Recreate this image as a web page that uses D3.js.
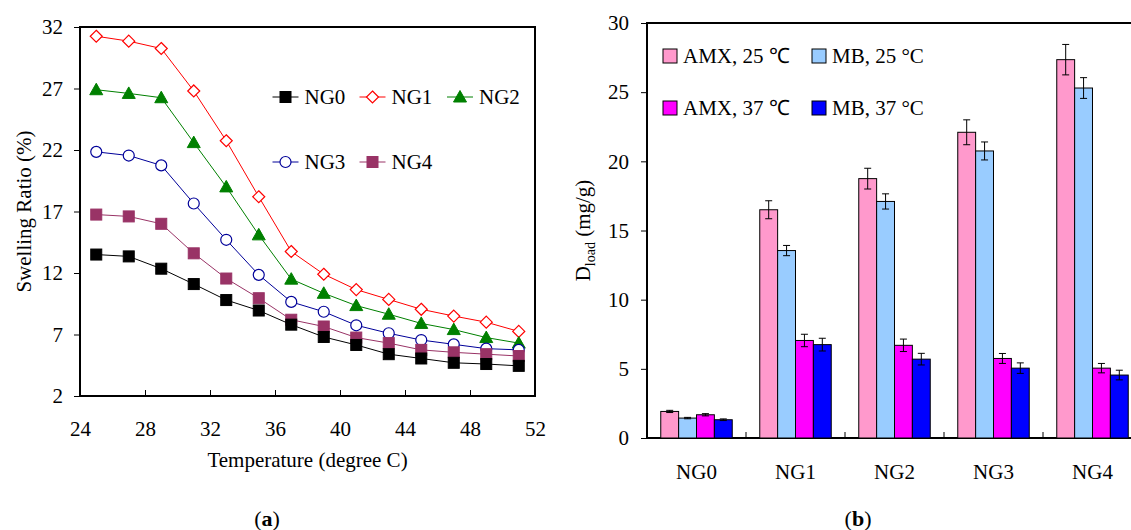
<!DOCTYPE html>
<html>
<head>
<meta charset="utf-8">
<script src="https://cdn.jsdelivr.net/npm/d3@7"></script>
<style>
  body { margin: 0; background: #fff; }
  svg text { font-family: "Liberation Serif", "Times New Roman", serif; fill: #000; }
</style>
</head>
<body>
<div id="chart"></div>
<script>
// ---- data: (a) swelling ratio vs temperature
const temps = [25, 27, 29, 31, 33, 35, 37, 39, 41, 43, 45, 47, 49, 51];
const ng0 = [13.5, 13.35, 12.35, 11.1, 9.8, 8.95, 7.8, 6.8, 6.15, 5.4, 5.05, 4.7, 4.6, 4.45];
const ng1 = [31.25, 30.85, 30.25, 26.8, 22.75, 18.2, 13.75, 11.9, 10.65, 9.85, 9.05, 8.5, 8.0, 7.25];
const ng2 = [26.9, 26.6, 26.25, 22.6, 19.0, 15.1, 11.5, 10.35, 9.35, 8.65, 7.9, 7.4, 6.75, 6.3];
const ng3 = [21.85, 21.55, 20.75, 17.65, 14.7, 11.85, 9.65, 8.85, 7.75, 7.1, 6.55, 6.2, 5.85, 5.75];
const ng4 = [16.75, 16.6, 16.0, 13.6, 11.55, 9.95, 8.2, 7.65, 6.75, 6.3, 5.75, 5.55, 5.4, 5.25];
const seriesNames = ["NG0", "NG1", "NG2", "NG3", "NG4"];
const xTicksA = [24, 28, 32, 36, 40, 44, 48, 52];
const yTicksA = [2, 7, 12, 17, 22, 27, 32];

// ---- data: (b) drug loading
const groups = ["NG0", "NG1", "NG2", "NG3", "NG4"];
const barKeys = ["AMX, 25 \u2103", "MB, 25 \u00B0C", "AMX, 37 \u2103", "MB, 37 \u00B0C"];
const amx25 = [1.92, 16.5, 18.75, 22.1, 27.35];
const mb25 = [1.44, 13.55, 17.1, 20.75, 25.3];
const amx37 = [1.68, 7.05, 6.7, 5.75, 5.05];
const mb37 = [1.32, 6.75, 5.7, 5.05, 4.55];
const amx25Err = [0.08, 0.65, 0.75, 0.9, 1.1];
const mb25Err = [0.05, 0.37, 0.55, 0.65, 0.75];
const amx37Err = [0.08, 0.45, 0.45, 0.36, 0.34];
const mb37Err = [0.06, 0.46, 0.42, 0.38, 0.35];
const yTicksB = [0, 5, 10, 15, 20, 25, 30];

const W = 1131, H = 530;
const svg = d3.select("#chart").append("svg").attr("width", W).attr("height", H);
const FS = 21;

// ================= (a) =================
const A = { left: 80, right: 535, top: 27, bottom: 396 };
const xA = d3.scaleLinear().domain([24, 52]).range([A.left, A.right]);
const yA = d3.scaleLinear().domain([2, 32]).range([A.bottom, A.top]);

const ga = svg.append("g");

ga.append("rect")
  .attr("x", A.left).attr("y", A.top)
  .attr("width", A.right - A.left).attr("height", A.bottom - A.top)
  .attr("fill", "none").attr("stroke", "#000").attr("stroke-width", 2);

// y axis ticks (outside)
ga.append("g")
  .attr("transform", `translate(${A.left},0)`)
  .call(d3.axisLeft(yA).tickValues(yTicksA).tickSize(6).tickPadding(11))
  .call(g => g.select(".domain").remove())
  .call(g => g.selectAll("text").attr("font-size", FS).attr("font-family", "Liberation Serif"));

// x axis ticks (inside)
ga.append("g")
  .attr("transform", `translate(0,${A.bottom})`)
  .call(d3.axisBottom(xA).tickValues(xTicksA).tickSize(-6).tickPadding(25))
  .call(g => g.select(".domain").remove())
  .call(g => g.selectAll("text").attr("font-size", FS).attr("font-family", "Liberation Serif"));

ga.append("text")
  .attr("x", (A.left + A.right) / 2).attr("y", 467)
  .attr("text-anchor", "middle").attr("font-size", FS)
  .text("Temperature (degree C)");

ga.append("text")
  .attr("transform", `translate(31,${(A.top + A.bottom) / 2}) rotate(-90)`)
  .attr("text-anchor", "middle").attr("font-size", FS)
  .text("Swelling Ratio (%)");

const seriesA = [
  { name: "NG0", values: ng0, color: "#000000", shape: "square", fill: "#000000" },
  { name: "NG1", values: ng1, color: "#FF0000", shape: "diamond", fill: "#FFFFFF" },
  { name: "NG2", values: ng2, color: "#008000", shape: "triangle", fill: "#008000" },
  { name: "NG3", values: ng3, color: "#000099", shape: "circle", fill: "#FFFFFF" },
  { name: "NG4", values: ng4, color: "#993366", shape: "square", fill: "#993366" }
];

function drawMarker(sel, s, x, y) {
  if (s.shape === "square") {
    sel.append("rect").attr("x", x - 5.5).attr("y", y - 5.5).attr("width", 11).attr("height", 11)
      .attr("fill", s.fill).attr("stroke", s.color).attr("stroke-width", 1);
  } else if (s.shape === "diamond") {
    sel.append("path").attr("d", `M${x},${y - 6}L${x + 6},${y}L${x},${y + 6}L${x - 6},${y}Z`)
      .attr("fill", s.fill).attr("stroke", s.color).attr("stroke-width", 1.2);
  } else if (s.shape === "triangle") {
    sel.append("path").attr("d", `M${x},${y - 6.5}L${x + 6.5},${y + 5}L${x - 6.5},${y + 5}Z`)
      .attr("fill", s.fill).attr("stroke", s.color).attr("stroke-width", 1);
  } else {
    sel.append("circle").attr("cx", x).attr("cy", y).attr("r", 5.5)
      .attr("fill", s.fill).attr("stroke", s.color).attr("stroke-width", 1.2);
  }
}

const line = d3.line().x((d, i) => xA(temps[i])).y(d => yA(d));

// draw NG1 first so others overlap like in the reference, last NG0 on top
[1, 2, 3, 4, 0].forEach(k => {
  const s = seriesA[k];
  const g = ga.append("g");
  g.append("path").attr("d", line(s.values)).attr("fill", "none")
    .attr("stroke", s.color).attr("stroke-width", 1);
  s.values.forEach((v, i) => drawMarker(g, s, xA(temps[i]), yA(v)));
});

// legend (a)
const legPos = [[285.5, 97], [372.5, 97], [460, 97], [285.5, 162], [372.5, 162]];
seriesA.forEach((s, i) => {
  const [lx, ly] = legPos[i];
  const g = ga.append("g");
  g.append("line").attr("x1", lx - 13).attr("x2", lx + 13).attr("y1", ly).attr("y2", ly)
    .attr("stroke", s.color).attr("stroke-width", 1);
  drawMarker(g, s, lx, ly);
  g.append("text").attr("x", lx + 19).attr("y", ly + 7).attr("font-size", FS).text(s.name);
});

ga.append("text").attr("x", 267).attr("y", 526).attr("text-anchor", "middle").attr("font-size", 22)
  .call(t => {
    t.append("tspan").text("(");
    t.append("tspan").attr("font-weight", "bold").text("a");
    t.append("tspan").text(")");
  });

// ================= (b) =================
const B = { left: 647, right: 1142, top: 23, bottom: 438 };
const xB = d3.scaleBand().domain(groups).range([B.left, B.right]);
const xInner = d3.scaleBand().domain(barKeys).range([0, xB.bandwidth()]).paddingInner(0).paddingOuter(0.77);
const yB = d3.scaleLinear().domain([0, 30]).range([B.bottom, B.top]);

const gb = svg.append("g");
const barColors = ["#FF99CC", "#99CCFF", "#FF00FF", "#0000FF"];
const barVals = [amx25, mb25, amx37, mb37];
const barErrs = [amx25Err, mb25Err, amx37Err, mb37Err];

gb.append("rect")
  .attr("x", B.left).attr("y", B.top)
  .attr("width", B.right - B.left).attr("height", B.bottom - B.top)
  .attr("fill", "none").attr("stroke", "#000").attr("stroke-width", 2);

gb.append("g")
  .attr("transform", `translate(${B.left},0)`)
  .call(d3.axisLeft(yB).tickValues(yTicksB).tickSize(6).tickPadding(12))
  .call(g => g.select(".domain").remove())
  .call(g => g.selectAll("text").attr("font-size", FS).attr("font-family", "Liberation Serif"));

// category separators (inside ticks)
gb.append("g").selectAll("line")
  .data(groups.slice(1))
  .join("line")
  .attr("x1", d => xB(d)).attr("x2", d => xB(d))
  .attr("y1", B.bottom).attr("y2", B.bottom - 6)
  .attr("stroke", "#000").attr("stroke-width", 1);

gb.append("g").selectAll("text")
  .data(groups)
  .join("text")
  .attr("x", d => xB(d) + xB.bandwidth() / 2)
  .attr("y", 479)
  .attr("text-anchor", "middle").attr("font-size", FS)
  .text(d => d);

groups.forEach((grp, gi) => {
  barKeys.forEach((k, ki) => {
    const v = barVals[ki][gi], e = barErrs[ki][gi];
    const x0 = xB(grp) + xInner(k);
    const bw = xInner.bandwidth();
    gb.append("rect")
      .attr("x", x0).attr("y", yB(v))
      .attr("width", bw).attr("height", yB(0) - yB(v))
      .attr("fill", barColors[ki]).attr("stroke", "#000").attr("stroke-width", 1);
    const cx = x0 + bw / 2;
    const eg = gb.append("g").attr("stroke", "#000").attr("stroke-width", 1);
    eg.append("line").attr("x1", cx).attr("x2", cx).attr("y1", yB(v + e)).attr("y2", yB(v - e));
    eg.append("line").attr("x1", cx - 3.5).attr("x2", cx + 3.5).attr("y1", yB(v + e)).attr("y2", yB(v + e));
    eg.append("line").attr("x1", cx - 3.5).attr("x2", cx + 3.5).attr("y1", yB(v - e)).attr("y2", yB(v - e));
  });
});

// y title with subscript
gb.append("text")
  .attr("transform", `translate(590,${(B.top + B.bottom) / 2}) rotate(-90)`)
  .attr("text-anchor", "middle").attr("font-size", FS)
  .call(t => {
    t.append("tspan").text("D");
    t.append("tspan").attr("font-size", 14).attr("dy", 5).text("load");
    t.append("tspan").attr("dy", -5).text(" (mg/g)");
  });

// legend (b)
const legB = [[663, 56], [812, 56], [663, 108], [812, 108]];
barKeys.forEach((k, i) => {
  const [lx, ly] = legB[i];
  gb.append("rect").attr("x", lx).attr("y", ly - 7).attr("width", 14).attr("height", 14)
    .attr("fill", barColors[i]).attr("stroke", "#000").attr("stroke-width", 1);
  gb.append("text").attr("x", lx + 20).attr("y", ly + 7).attr("font-size", FS).text(k);
});

gb.append("text").attr("x", 858).attr("y", 526).attr("text-anchor", "middle").attr("font-size", 22)
  .call(t => {
    t.append("tspan").text("(");
    t.append("tspan").attr("font-weight", "bold").text("b");
    t.append("tspan").text(")");
  });
</script>
</body>
</html>
